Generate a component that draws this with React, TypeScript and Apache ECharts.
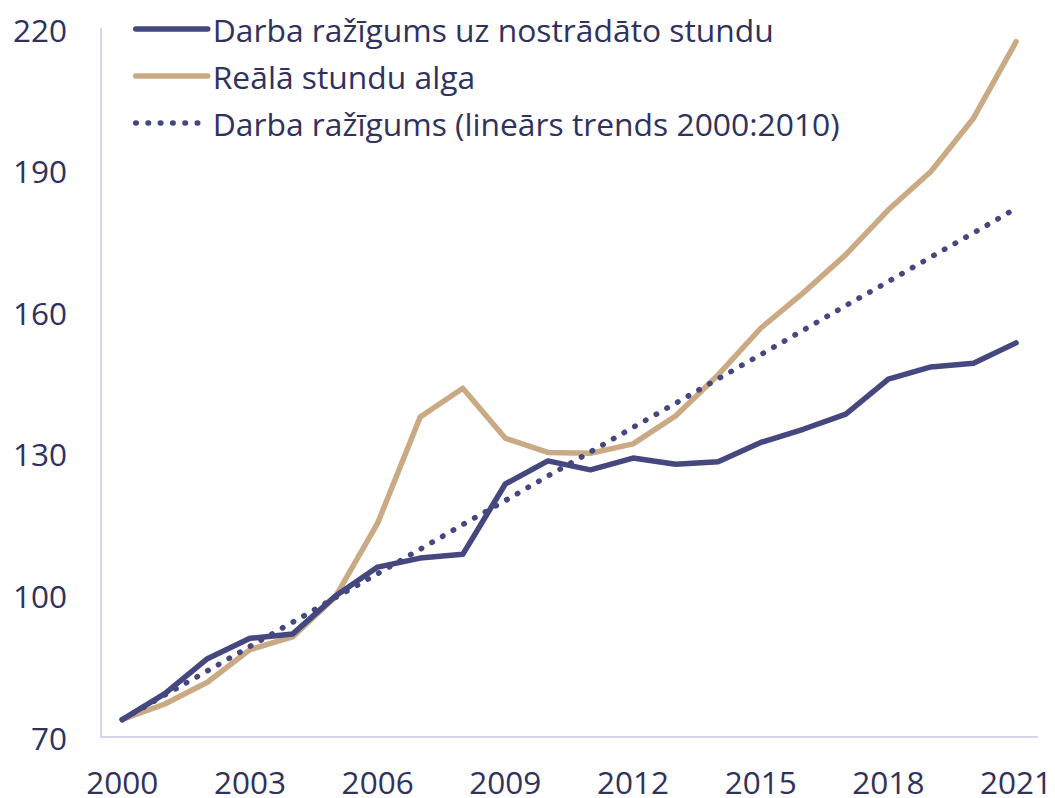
import React, { useEffect, useRef } from "react";
import * as echarts from "echarts";

const years = ["2000","2001","2002","2003","2004","2005","2006","2007","2008","2009","2010","2011","2012","2013","2014","2015","2016","2017","2018","2019","2020","2021"];
const productivity = [73.7, 79.2, 86.6, 90.9, 91.8, 99.8, 106.0, 107.9, 108.7, 123.6, 128.5, 126.6, 129.1, 127.8, 128.3, 132.4, 135.2, 138.4, 145.8, 148.4, 149.2, 153.5];
const realWage = [73.7, 77.0, 81.6, 88.5, 91.2, 99.6, 115.3, 137.8, 143.9, 133.3, 130.3, 130.1, 132.1, 138.0, 146.7, 156.6, 164.1, 172.2, 181.7, 189.8, 201.1, 217.3];
const trend = [73.7, 78.9, 84.0, 89.2, 94.3, 99.5, 104.6, 109.8, 115.0, 120.1, 125.3, 130.4, 135.6, 140.7, 145.9, 151.0, 156.2, 161.4, 166.5, 171.7, 176.8, 182.0];
const seriesNames = [
  "Darba ražīgums uz nostrādāto stundu",
  "Reālā stundu alga",
  "Darba ražīgums (lineārs trends 2000:2010)",
];
const yTicks = { min: 70, max: 220, interval: 30 };

const NAVY = "#45477f";
const TAN = "#c9aa84";
const TEXT = "#30325e";
const AXIS = "#d5d6e9";
const FONT = "'Open Sans', sans-serif";

export default function App() {
  const ref = useRef<HTMLDivElement>(null);
  useEffect(() => {
    if (!ref.current) return;
    const chart = echarts.init(ref.current, undefined, { renderer: "svg" });
    chart.setOption({
      animation: false,
      backgroundColor: "#ffffff",
      textStyle: { fontFamily: FONT },
      grid: { left: 101, right: 15, top: 29, bottom: 61, containLabel: false },
      legend: {
        orient: "vertical",
        left: 133,
        top: 13,
        padding: 0,
        itemWidth: 72,
        itemHeight: 14,
        itemGap: 15,
        data: seriesNames,
        itemStyle: { opacity: 0 },
        lineStyle: { width: 5.5, cap: "round" },
        textStyle: { fontSize: 31.8, lineHeight: 32, color: TEXT, fontFamily: FONT },
      },
      xAxis: {
        type: "category",
        data: years,
        boundaryGap: true,
        axisLine: { show: true, lineStyle: { color: AXIS, width: 2 } },
        axisTick: { show: false },
        axisLabel: { interval: 2, fontSize: 31.5, lineHeight: 28, color: TEXT, fontFamily: FONT, margin: 30 },
        splitLine: { show: false },
      },
      yAxis: {
        type: "value",
        min: yTicks.min,
        max: yTicks.max,
        interval: yTicks.interval,
        axisLine: { show: true, lineStyle: { color: AXIS, width: 2 } },
        axisTick: { show: false },
        axisLabel: { fontSize: 31.5, color: TEXT, fontFamily: FONT, margin: 34 },
        splitLine: { show: false },
      },
      series: [
        {
          name: seriesNames[0],
          type: "line",
          data: productivity,
          symbol: "none",
          z: 3,
          lineStyle: { color: NAVY, width: 5.5, cap: "round", join: "round" },
          itemStyle: { color: NAVY },
        },
        {
          name: seriesNames[1],
          type: "line",
          data: realWage,
          symbol: "none",
          z: 2,
          lineStyle: { color: TAN, width: 5.5, cap: "round", join: "round" },
          itemStyle: { color: TAN },
        },
        {
          name: seriesNames[2],
          type: "line",
          data: trend,
          symbol: "none",
          z: 4,
          lineStyle: { color: NAVY, width: 5.5, type: [0.5, 11.8], cap: "round" },
          itemStyle: { color: NAVY },
        },
      ],
    });
    return () => chart.dispose();
  }, []);
  return <div ref={ref} style={{ width: 1055, height: 798, position: "absolute", left: 0, top: 0 }} />;
}
